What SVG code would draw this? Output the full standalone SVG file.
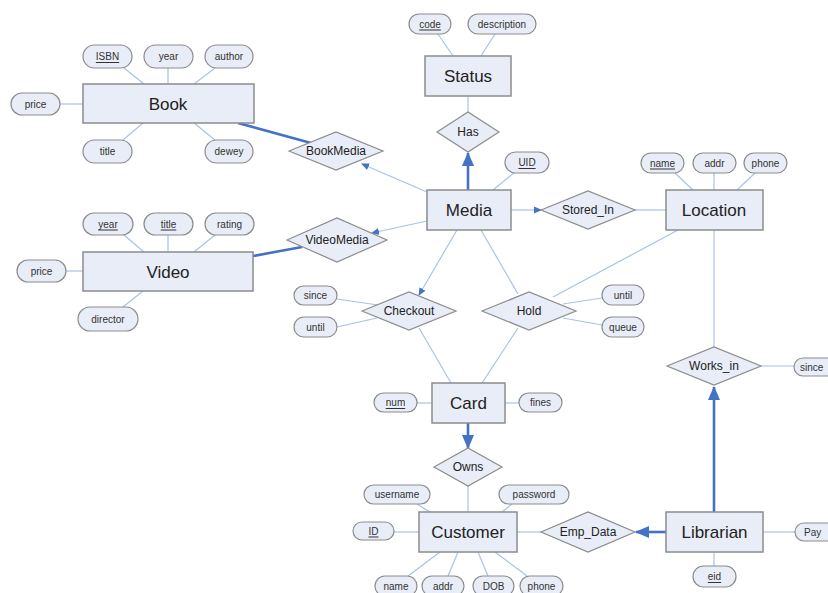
<svg xmlns="http://www.w3.org/2000/svg" width="828" height="593" viewBox="0 0 828 593">
<defs>
<style>
.ent{fill:#e8edf7;stroke:#8c8c8c;stroke-width:1.5}
.att{fill:#e8edf7;stroke:#8c8c8c;stroke-width:1.2}
.rel{fill:#e8edf7;stroke:#8c8c8c;stroke-width:1.2}
.ln{stroke:#a8c2e6;stroke-width:1.2;fill:none}
.thk{stroke:#4472c4;stroke-width:2.6;fill:none}
.te{font-family:"Liberation Sans",Arial,sans-serif;font-size:17px;fill:#222;text-anchor:middle;dominant-baseline:central}
.tr{font-family:"Liberation Sans",Arial,sans-serif;font-size:12px;fill:#222;text-anchor:middle;dominant-baseline:central}
.ta{font-family:"Liberation Sans",Arial,sans-serif;font-size:10px;fill:#333;text-anchor:middle;dominant-baseline:central}
.u{text-decoration:underline}
</style>
<marker id="as" markerUnits="userSpaceOnUse" markerWidth="8" markerHeight="8" viewBox="0 0 8 8" refX="7" refY="4" orient="auto"><path d="M0,0.5 L8,4 L0,7.5 Z" fill="#4472c4"/></marker>
<marker id="ab" markerUnits="userSpaceOnUse" markerWidth="14" markerHeight="14" viewBox="0 0 14 14" refX="13" refY="7" orient="auto"><path d="M0,1 L14,7 L0,13 Z" fill="#4472c4"/></marker>
</defs>
<rect width="828" height="593" fill="#ffffff"/>
<g id="connectors">
<line class="ln" x1="124" y1="68" x2="144" y2="84"/>
<line class="ln" x1="168" y1="68" x2="168" y2="84"/>
<line class="ln" x1="215" y1="68" x2="194" y2="84"/>
<line class="ln" x1="60" y1="104" x2="83" y2="104"/>
<line class="ln" x1="123" y1="140" x2="143" y2="123"/>
<line class="ln" x1="215" y1="140" x2="194" y2="123"/>
<line class="thk" x1="238" y1="123" x2="311" y2="143"/>
<line class="ln" x1="124" y1="235" x2="144" y2="252"/>
<line class="ln" x1="168" y1="235" x2="168" y2="252"/>
<line class="ln" x1="215" y1="235" x2="194" y2="252"/>
<line class="ln" x1="66" y1="271" x2="83" y2="271"/>
<line class="ln" x1="123" y1="307" x2="143" y2="291"/>
<line class="thk" x1="253" y1="256" x2="302" y2="247"/>
<line class="ln" x1="438" y1="34" x2="453" y2="56"/>
<line class="ln" x1="495" y1="34" x2="481" y2="56"/>
<line class="ln" x1="468" y1="96" x2="468" y2="112"/>
<line class="thk" x1="468" y1="190" x2="468" y2="153" marker-end="url(#ab)"/>
<line class="ln" x1="515" y1="172" x2="493" y2="190"/>
<line class="ln" x1="427" y1="192" x2="362" y2="164" marker-end="url(#as)"/>
<line class="ln" x1="427" y1="221" x2="372" y2="233" marker-end="url(#as)"/>
<line class="ln" x1="511" y1="210" x2="541" y2="210" marker-end="url(#as)"/>
<line class="ln" x1="635" y1="210" x2="666" y2="210"/>
<line class="ln" x1="675" y1="173" x2="693" y2="190"/>
<line class="ln" x1="714" y1="173" x2="714" y2="190"/>
<line class="ln" x1="755" y1="173" x2="737" y2="190"/>
<line class="ln" x1="678" y1="230" x2="553" y2="297"/>
<line class="ln" x1="714" y1="230" x2="714" y2="347"/>
<line class="ln" x1="761" y1="366" x2="794" y2="366"/>
<line class="thk" x1="714" y1="512" x2="714" y2="387" marker-end="url(#ab)"/>
<line class="ln" x1="763" y1="532" x2="795" y2="532"/>
<line class="ln" x1="714" y1="552" x2="714" y2="566"/>
<line class="thk" x1="666" y1="532" x2="636" y2="532" marker-end="url(#ab)"/>
<line class="ln" x1="541" y1="532" x2="517" y2="532"/>
<line class="ln" x1="457" y1="230" x2="419" y2="295" marker-end="url(#as)"/>
<line class="ln" x1="481" y1="230" x2="518" y2="294"/>
<line class="ln" x1="337" y1="299" x2="378" y2="305"/>
<line class="ln" x1="337" y1="327" x2="377" y2="318"/>
<line class="ln" x1="563" y1="304" x2="602" y2="298"/>
<line class="ln" x1="563" y1="318" x2="602" y2="325"/>
<line class="ln" x1="419" y1="328" x2="451" y2="383"/>
<line class="ln" x1="518" y1="328" x2="482" y2="383"/>
<line class="ln" x1="417" y1="403" x2="432" y2="403"/>
<line class="ln" x1="505" y1="403" x2="519" y2="403"/>
<line class="thk" x1="468" y1="423" x2="468" y2="448" marker-end="url(#ab)"/>
<line class="ln" x1="468" y1="486" x2="468" y2="512"/>
<line class="ln" x1="417" y1="504" x2="430" y2="512"/>
<line class="ln" x1="512" y1="504" x2="502" y2="512"/>
<line class="ln" x1="394" y1="532" x2="419" y2="532"/>
<line class="ln" x1="408" y1="576" x2="440" y2="552"/>
<line class="ln" x1="448" y1="576" x2="458" y2="552"/>
<line class="ln" x1="488" y1="576" x2="478" y2="552"/>
<line class="ln" x1="527" y1="576" x2="495" y2="552"/>
</g>
<g id="Book"><rect class="ent" x="83" y="84" width="171" height="39"/><text class="te" x="168" y="104">Book</text></g>
<g id="Book_ISBN"><rect class="att" x="83" y="45" width="49" height="23" rx="11.5"/><text class="ta u" x="107.5" y="56.5">ISBN</text></g>
<g id="Book_year"><rect class="att" x="144" y="45" width="49" height="23" rx="11.5"/><text class="ta" x="168.5" y="56.5">year</text></g>
<g id="Book_author"><rect class="att" x="205" y="45" width="48" height="23" rx="11.5"/><text class="ta" x="229" y="56.5">author</text></g>
<g id="Book_price"><rect class="att" x="11" y="93" width="49" height="22" rx="11"/><text class="ta" x="35.5" y="104">price</text></g>
<g id="Book_title"><rect class="att" x="83" y="140" width="49" height="23" rx="11.5"/><text class="ta" x="107.5" y="151.5">title</text></g>
<g id="Book_dewey"><rect class="att" x="205" y="140" width="48" height="23" rx="11.5"/><text class="ta" x="229" y="151.5">dewey</text></g>
<g id="Video"><rect class="ent" x="83" y="252" width="170" height="39"/><text class="te" x="168" y="272">Video</text></g>
<g id="Video_year"><rect class="att" x="83" y="213" width="50" height="22" rx="11"/><text class="ta u" x="108" y="224">year</text></g>
<g id="Video_title"><rect class="att" x="144" y="213" width="49" height="22" rx="11"/><text class="ta u" x="168.5" y="224">title</text></g>
<g id="Video_rating"><rect class="att" x="205" y="213" width="49" height="22" rx="11"/><text class="ta" x="229.5" y="224">rating</text></g>
<g id="Video_price"><rect class="att" x="17" y="260" width="49" height="22" rx="11"/><text class="ta" x="41.5" y="271">price</text></g>
<g id="Video_director"><rect class="att" x="78" y="307" width="60" height="24" rx="12"/><text class="ta" x="108" y="319">director</text></g>
<g id="BookMedia"><polygon class="rel" points="289,151 336,132 383,151 336,170"/><text class="tr" x="336" y="151">BookMedia</text></g>
<g id="VideoMedia"><polygon class="rel" points="287,240 337,218 387,240 337,262"/><text class="tr" x="337" y="240">VideoMedia</text></g>
<g id="Status"><rect class="ent" x="425" y="56" width="86" height="40"/><text class="te" x="468" y="76">Status</text></g>
<g id="Status_code"><rect class="att" x="409" y="14" width="42" height="20" rx="10"/><text class="ta u" x="430" y="24">code</text></g>
<g id="Status_description"><rect class="att" x="468" y="14" width="68" height="20" rx="10"/><text class="ta" x="502" y="24">description</text></g>
<g id="Has"><polygon class="rel" points="437,132 468,112 499,132 468,152"/><text class="tr" x="468" y="132">Has</text></g>
<g id="Media"><rect class="ent" x="427" y="190" width="84" height="40"/><text class="te" x="469" y="210">Media</text></g>
<g id="Media_UID"><rect class="att" x="505" y="152" width="44" height="21" rx="10.5"/><text class="ta u" x="527" y="162.5">UID</text></g>
<g id="Stored_In"><polygon class="rel" points="541,210 588,191 635,210 588,229"/><text class="tr" x="588" y="210">Stored_In</text></g>
<g id="Location"><rect class="ent" x="666" y="190" width="97" height="40"/><text class="te" x="714" y="210">Location</text></g>
<g id="Location_name"><rect class="att" x="641" y="153" width="43" height="20" rx="10"/><text class="ta u" x="662.5" y="163">name</text></g>
<g id="Location_addr"><rect class="att" x="693" y="153" width="43" height="20" rx="10"/><text class="ta" x="714.5" y="163">addr</text></g>
<g id="Location_phone"><rect class="att" x="744" y="153" width="43" height="20" rx="10"/><text class="ta" x="765.5" y="163">phone</text></g>
<g id="Checkout"><polygon class="rel" points="362,311 409,292 456,311 409,330"/><text class="tr" x="409" y="311">Checkout</text></g>
<g id="Checkout_since"><rect class="att" x="294" y="286" width="43" height="19" rx="9.5"/><text class="ta" x="315.5" y="295.5">since</text></g>
<g id="Checkout_until"><rect class="att" x="294" y="317" width="43" height="20" rx="10"/><text class="ta" x="315.5" y="327">until</text></g>
<g id="Hold"><polygon class="rel" points="482,311 529,292 576,311 529,330"/><text class="tr" x="529" y="311">Hold</text></g>
<g id="Hold_until"><rect class="att" x="602" y="285" width="42" height="20" rx="10"/><text class="ta" x="623" y="295">until</text></g>
<g id="Hold_queue"><rect class="att" x="602" y="317" width="42" height="20" rx="10"/><text class="ta" x="623" y="327">queue</text></g>
<g id="Works_in"><polygon class="rel" points="667,366 714,347 761,366 714,385"/><text class="tr" x="714" y="366">Works_in</text></g>
<g id="Works_in_since"><rect class="att" x="794" y="358" width="50" height="18" rx="9"/><text class="ta" x="812" y="367" text-anchor="start" style="text-anchor:start" dx="-12">since</text></g>
<g id="Card"><rect class="ent" x="432" y="383" width="73" height="40"/><text class="te" x="468.5" y="403">Card</text></g>
<g id="Card_num"><rect class="att" x="374" y="393" width="43" height="19" rx="9.5"/><text class="ta u" x="395.5" y="402.5">num</text></g>
<g id="Card_fines"><rect class="att" x="519" y="393" width="43" height="19" rx="9.5"/><text class="ta" x="540.5" y="402.5">fines</text></g>
<g id="Owns"><polygon class="rel" points="434,467 468,448 502,467 468,486"/><text class="tr" x="468" y="467">Owns</text></g>
<g id="Customer"><rect class="ent" x="419" y="512" width="98" height="40"/><text class="te" x="468" y="532">Customer</text></g>
<g id="Customer_username"><rect class="att" x="364" y="485" width="66" height="19" rx="9.5"/><text class="ta" x="397" y="494.5">username</text></g>
<g id="Customer_password"><rect class="att" x="499" y="485" width="70" height="19" rx="9.5"/><text class="ta" x="534" y="494.5">password</text></g>
<g id="Customer_ID"><rect class="att" x="353" y="522" width="41" height="18" rx="9"/><text class="ta u" x="373.5" y="531">ID</text></g>
<g id="Customer_name"><rect class="att" x="375" y="576" width="42" height="20" rx="10"/><text class="ta" x="396" y="586">name</text></g>
<g id="Customer_addr"><rect class="att" x="422" y="576" width="42" height="20" rx="10"/><text class="ta" x="443" y="586">addr</text></g>
<g id="Customer_DOB"><rect class="att" x="473" y="576" width="41" height="20" rx="10"/><text class="ta" x="493.5" y="586">DOB</text></g>
<g id="Customer_phone"><rect class="att" x="520" y="576" width="43" height="20" rx="10"/><text class="ta" x="541.5" y="586">phone</text></g>
<g id="Emp_Data"><polygon class="rel" points="541,532 588,512 635,532 588,552"/><text class="tr" x="588" y="532">Emp_Data</text></g>
<g id="Librarian"><rect class="ent" x="666" y="512" width="97" height="40"/><text class="te" x="714.5" y="532">Librarian</text></g>
<g id="Librarian_Pay"><rect class="att" x="795" y="523" width="50" height="18" rx="9"/><text class="ta" x="804" y="532" style="text-anchor:start">Pay</text></g>
<g id="Librarian_eid"><rect class="att" x="693" y="566" width="43" height="21" rx="10.5"/><text class="ta u" x="714.5" y="576.5">eid</text></g>
</svg>
